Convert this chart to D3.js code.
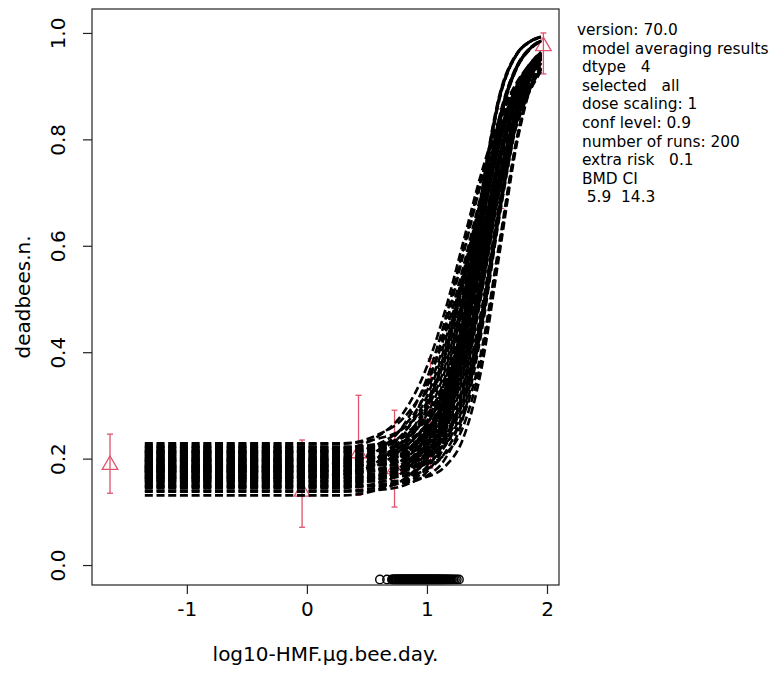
<!DOCTYPE html>
<html>
<head>
<meta charset="utf-8">
<script src="https://cdn.jsdelivr.net/npm/d3@7"></script>
<style>
  body { margin: 0; background: #fff; }
  svg text { font-family: "DejaVu Sans", sans-serif; fill: #000; }
</style>
</head>
<body>
<div id="chart"></div>
<script>
// observed data: log10 dose, proportion dead and the CI bounds
const obsDose = [-1.64, -0.04, 0.43, 0.73, 1.03, 1.33, 1.62, 1.97];
const obsMean = [0.190, 0.140, 0.212, 0.182, 0.280, 0.450, 0.760, 0.977];
const obsLow  = [0.135, 0.071, 0.131, 0.109, 0.182, 0.340, 0.670, 0.923];
const obsHigh = [0.246, 0.235, 0.319, 0.291, 0.388, 0.567, 0.857, 1.000];

// dose grid shared by the model-averaged bootstrap curves
const doseGrid = [-1.35, -0.5, 0.3, 0.6, 0.8, 1.0, 1.15, 1.3, 1.45, 1.6, 1.75, 1.85, 1.95];
const runCurves = [
  [0.131,0.131,0.131,0.142,0.160,0.207,0.277,0.391,0.544,0.702,0.828,0.887,0.928],
  [0.138,0.138,0.138,0.141,0.149,0.175,0.226,0.331,0.503,0.699,0.849,0.912,0.950],
  [0.145,0.145,0.145,0.155,0.175,0.230,0.318,0.458,0.631,0.787,0.891,0.934,0.960],
  [0.150,0.150,0.150,0.151,0.154,0.168,0.199,0.276,0.432,0.649,0.832,0.907,0.951],
  [0.155,0.155,0.155,0.161,0.174,0.213,0.281,0.405,0.578,0.750,0.874,0.924,0.956],
  [0.160,0.160,0.160,0.162,0.168,0.195,0.258,0.403,0.627,0.827,0.935,0.968,0.985],
  [0.164,0.164,0.164,0.167,0.175,0.200,0.250,0.352,0.518,0.708,0.854,0.914,0.952],
  [0.168,0.168,0.170,0.189,0.221,0.294,0.391,0.525,0.672,0.800,0.889,0.928,0.954],
  [0.172,0.172,0.172,0.178,0.191,0.229,0.296,0.417,0.586,0.756,0.876,0.926,0.957],
  [0.176,0.176,0.176,0.177,0.180,0.193,0.223,0.298,0.449,0.659,0.837,0.910,0.953],
  [0.180,0.180,0.180,0.190,0.209,0.262,0.346,0.480,0.646,0.795,0.896,0.936,0.962],
  [0.184,0.184,0.184,0.194,0.212,0.255,0.321,0.428,0.572,0.720,0.839,0.894,0.932],
  [0.188,0.188,0.188,0.190,0.196,0.221,0.283,0.423,0.640,0.833,0.937,0.969,0.985],
  [0.192,0.192,0.192,0.198,0.210,0.247,0.313,0.431,0.596,0.761,0.879,0.928,0.958],
  [0.196,0.196,0.196,0.199,0.206,0.231,0.278,0.376,0.536,0.719,0.859,0.918,0.953],
  [0.200,0.200,0.200,0.201,0.204,0.217,0.246,0.318,0.465,0.669,0.842,0.913,0.954],
  [0.204,0.204,0.204,0.214,0.232,0.283,0.365,0.495,0.656,0.801,0.899,0.938,0.963],
  [0.208,0.208,0.210,0.228,0.259,0.327,0.420,0.547,0.688,0.810,0.894,0.931,0.956],
  [0.212,0.212,0.212,0.218,0.230,0.266,0.330,0.445,0.606,0.767,0.882,0.930,0.959],
  [0.217,0.217,0.217,0.219,0.224,0.249,0.308,0.443,0.652,0.839,0.939,0.970,0.986],
  [0.222,0.222,0.222,0.225,0.232,0.256,0.302,0.397,0.551,0.728,0.864,0.920,0.955],
  [0.226,0.226,0.228,0.246,0.275,0.343,0.433,0.558,0.695,0.814,0.897,0.933,0.957],
  [0.229,0.229,0.229,0.238,0.256,0.306,0.385,0.511,0.667,0.808,0.902,0.940,0.964],
  [0.175,0.175,0.177,0.196,0.228,0.299,0.396,0.529,0.675,0.802,0.890,0.928,0.954],
  [0.158,0.158,0.158,0.168,0.188,0.242,0.328,0.466,0.637,0.790,0.893,0.935,0.961],
  [0.186,0.186,0.186,0.189,0.197,0.221,0.269,0.369,0.530,0.715,0.858,0.917,0.953],
  [0.194,0.194,0.194,0.195,0.198,0.211,0.240,0.313,0.461,0.667,0.841,0.912,0.954],
  [0.170,0.170,0.170,0.172,0.178,0.204,0.267,0.410,0.632,0.829,0.936,0.968,0.985],
  [0.198,0.198,0.198,0.204,0.216,0.253,0.318,0.435,0.599,0.763,0.880,0.928,0.958],
  [0.178,0.178,0.178,0.188,0.206,0.250,0.316,0.424,0.568,0.718,0.837,0.893,0.932],
  [0.190,0.190,0.190,0.191,0.195,0.216,0.276,0.433,0.680,0.875,0.961,0.983,0.993],
  [0.166,0.166,0.166,0.167,0.171,0.193,0.255,0.416,0.670,0.871,0.960,0.982,0.992],
  [0.210,0.210,0.219,0.243,0.285,0.373,0.477,0.605,0.734,0.837,0.908,0.939,0.960],
  [0.183,0.183,0.192,0.217,0.261,0.351,0.459,0.592,0.724,0.832,0.905,0.937,0.958],
  [0.157,0.157,0.157,0.157,0.159,0.166,0.185,0.237,0.364,0.579,0.793,0.888,0.943],
  [0.202,0.202,0.202,0.202,0.204,0.211,0.228,0.278,0.398,0.601,0.804,0.894,0.946],
  [0.220,0.220,0.220,0.221,0.225,0.245,0.303,0.454,0.692,0.880,0.962,0.983,0.993],
  [0.147,0.147,0.147,0.149,0.155,0.182,0.247,0.394,0.621,0.824,0.934,0.967,0.984],
  [0.214,0.214,0.214,0.215,0.218,0.230,0.259,0.330,0.475,0.675,0.845,0.914,0.955],
  [0.162,0.162,0.171,0.196,0.242,0.335,0.445,0.581,0.717,0.828,0.902,0.935,0.957],
  [0.181,0.181,0.181,0.181,0.183,0.190,0.208,0.259,0.382,0.591,0.799,0.891,0.945],
  [0.140,0.140,0.140,0.146,0.159,0.199,0.268,0.394,0.570,0.746,0.872,0.923,0.955],
  [0.152,0.152,0.152,0.162,0.182,0.237,0.323,0.462,0.634,0.788,0.892,0.934,0.961],
  [0.190,0.190,0.190,0.200,0.219,0.271,0.353,0.486,0.650,0.798,0.897,0.937,0.962],
  [0.215,0.215,0.215,0.225,0.243,0.293,0.373,0.502,0.661,0.804,0.900,0.939,0.964],
  [0.148,0.148,0.148,0.151,0.159,0.185,0.235,0.339,0.509,0.702,0.851,0.913,0.951],
  [0.175,0.175,0.175,0.178,0.186,0.211,0.260,0.360,0.524,0.711,0.856,0.915,0.952],
  [0.208,0.208,0.208,0.211,0.218,0.242,0.289,0.386,0.543,0.723,0.861,0.919,0.954],
  [0.165,0.165,0.165,0.171,0.184,0.222,0.290,0.412,0.583,0.753,0.875,0.925,0.956],
  [0.185,0.185,0.185,0.191,0.203,0.241,0.307,0.426,0.593,0.759,0.878,0.927,0.958],
  [0.222,0.222,0.222,0.228,0.240,0.275,0.338,0.452,0.611,0.770,0.884,0.930,0.959],
  [0.178,0.178,0.178,0.180,0.186,0.212,0.274,0.416,0.635,0.831,0.936,0.969,0.985],
  [0.200,0.200,0.200,0.202,0.208,0.233,0.293,0.431,0.645,0.835,0.938,0.969,0.985],
  [0.205,0.205,0.205,0.206,0.210,0.231,0.290,0.443,0.686,0.877,0.961,0.983,0.993],
  [0.176,0.176,0.176,0.177,0.181,0.203,0.264,0.423,0.674,0.873,0.960,0.982,0.992],
  [0.163,0.163,0.163,0.164,0.167,0.180,0.211,0.287,0.441,0.654,0.834,0.909,0.952],
  [0.186,0.186,0.186,0.187,0.190,0.203,0.233,0.307,0.456,0.664,0.839,0.911,0.953],
  [0.170,0.170,0.170,0.181,0.198,0.242,0.309,0.419,0.564,0.715,0.836,0.892,0.931],
  [0.195,0.195,0.195,0.205,0.222,0.265,0.330,0.436,0.577,0.724,0.841,0.895,0.933],
  [0.213,0.213,0.213,0.223,0.240,0.282,0.345,0.449,0.587,0.730,0.844,0.898,0.935],
  [0.182,0.182,0.184,0.203,0.234,0.305,0.401,0.533,0.678,0.804,0.891,0.929,0.955],
  [0.196,0.196,0.198,0.216,0.247,0.317,0.411,0.541,0.684,0.807,0.893,0.930,0.955]
];

// log10 BMD estimates of the runs, drawn as a rug of circles
const bmdLog = [0.608, 0.667, 0.708, 0.716, 0.722, 0.731, 0.737, 0.745, 0.749, 0.758,
  0.763, 0.771, 0.776, 0.783, 0.786, 0.794, 0.799, 0.806, 0.811, 0.817, 0.820, 0.828,
  0.833, 0.839, 0.845, 0.851, 0.853, 0.860, 0.866, 0.872, 0.878, 0.883, 0.887, 0.893,
  0.899, 0.905, 0.910, 0.914, 0.918, 0.925, 0.931, 0.936, 0.942, 0.947, 0.951, 0.958,
  0.964, 0.970, 0.975, 0.981, 0.986, 0.991, 0.996, 1.003, 1.008, 1.014, 1.019, 1.025,
  1.031, 1.037, 1.042, 1.049, 1.055, 1.061, 1.066, 1.073, 1.079, 1.086, 1.092, 1.098,
  1.104, 1.111, 1.118, 1.124, 1.131, 1.139, 1.146, 1.153, 1.160, 1.169, 1.178, 1.187,
  1.197, 1.209, 1.221, 1.234, 1.249, 1.267];
const bmdRugY = -0.027;

const xTicks = [-1, 0, 1, 2];
const yTicks = [0, 0.2, 0.4, 0.6, 0.8, 1.0];

const infoLines = ["version: 70.0", " model averaging results", " dtype   4", " selected   all",
  " dose scaling: 1", " conf level: 0.9", " number of runs: 200", " extra risk   0.1",
  " BMD CI", "  5.9  14.3"];

const width = 776, height = 673;
const plot = {left: 92, right: 559, top: 9, bottom: 585};
const red = "#df536b";

const svg = d3.select("#chart").append("svg")
    .attr("width", width)
    .attr("height", height);

const x = d3.scaleLinear().domain([-1.79, 2.1]).range([plot.left, plot.right]);
const y = d3.scaleLinear().domain([-0.0375, 1.045]).range([plot.bottom, plot.top]);

// observed data with error bars (drawn first, curves lie over them)
const obs = obsDose.map((d, i) => ({dose: d, mean: obsMean[i], lo: obsLow[i], hi: obsHigh[i]}));
const obsG = svg.append("g").attr("stroke", red).attr("fill", "none").attr("stroke-width", 1.3);
obsG.selectAll(".bar").data(obs).enter().append("line")
    .attr("x1", d => x(d.dose)).attr("x2", d => x(d.dose))
    .attr("y1", d => y(d.lo)).attr("y2", d => y(d.hi));
obsG.selectAll(".capLo").data(obs).enter().append("line")
    .attr("x1", d => x(d.dose) - 3).attr("x2", d => x(d.dose) + 3)
    .attr("y1", d => y(d.lo)).attr("y2", d => y(d.lo));
obsG.selectAll(".capHi").data(obs).enter().append("line")
    .attr("x1", d => x(d.dose) - 3).attr("x2", d => x(d.dose) + 3)
    .attr("y1", d => y(d.hi)).attr("y2", d => y(d.hi));
obsG.selectAll(".tri").data(obs).enter().append("path")
    .attr("d", d3.symbol().type(d3.symbolTriangle).size(105))
    .attr("transform", d => `translate(${x(d.dose)},${y(d.mean) + 1})`);

// bootstrap curves
const line = d3.line()
    .x((d, i) => x(doseGrid[i]))
    .y(d => y(d))
    .curve(d3.curveMonotoneX);

svg.append("g").selectAll("path").data(runCurves).enter().append("path")
    .attr("d", line)
    .attr("fill", "none")
    .attr("stroke", "#000")
    .attr("stroke-width", 2.6)
    .attr("stroke-dasharray", "8,3.7");

// BMD rug
svg.append("g").selectAll("circle").data(bmdLog).enter().append("circle")
    .attr("cx", d => x(d))
    .attr("cy", y(bmdRugY))
    .attr("r", 4.2)
    .attr("fill", "none")
    .attr("stroke", "#000")
    .attr("stroke-width", 1.4);

// box
svg.append("rect")
    .attr("x", plot.left).attr("y", plot.top)
    .attr("width", plot.right - plot.left).attr("height", plot.bottom - plot.top)
    .attr("fill", "none").attr("stroke", "#222").attr("stroke-width", 1.2);

// axes
const xAxis = svg.append("g")
    .attr("transform", `translate(0,${plot.bottom})`)
    .call(d3.axisBottom(x).tickValues(xTicks).tickSize(9).tickSizeOuter(0).tickPadding(8)
        .tickFormat(d => String(d)));
xAxis.select(".domain").remove();
xAxis.selectAll("text").attr("font-size", 20).attr("font-family", "DejaVu Sans");
xAxis.selectAll("line").attr("stroke", "#222").attr("stroke-width", 1.2);

const yAxis = svg.append("g")
    .attr("transform", `translate(${plot.left},0)`)
    .call(d3.axisLeft(y).tickValues(yTicks).tickSize(9).tickSizeOuter(0)
        .tickFormat(d3.format(".1f")));
yAxis.select(".domain").remove();
yAxis.selectAll("line").attr("stroke", "#222").attr("stroke-width", 1.2);
yAxis.selectAll("text")
    .attr("font-size", 20).attr("font-family", "DejaVu Sans")
    .attr("x", null).attr("dy", null)
    .attr("text-anchor", "middle")
    .attr("transform", "translate(-27,0) rotate(-90)");

// axis titles
svg.append("text")
    .attr("x", (plot.left + plot.right) / 2)
    .attr("y", 661)
    .attr("text-anchor", "middle")
    .attr("font-size", 20)
    .text("log10-HMF.\u00b5g.bee.day.");

svg.append("text")
    .attr("transform", `translate(30,${(plot.top + plot.bottom) / 2}) rotate(-90)`)
    .attr("text-anchor", "middle")
    .attr("font-size", 20)
    .text("deadbees.n.");

// run information at the right
svg.append("g").selectAll("text").data(infoLines).enter().append("text")
    .attr("x", 577)
    .attr("y", (d, i) => 35 + i * 18.6)
    .attr("font-size", 15.4)
    .style("white-space", "pre")
    .text(d => d);
</script>
</body>
</html>
